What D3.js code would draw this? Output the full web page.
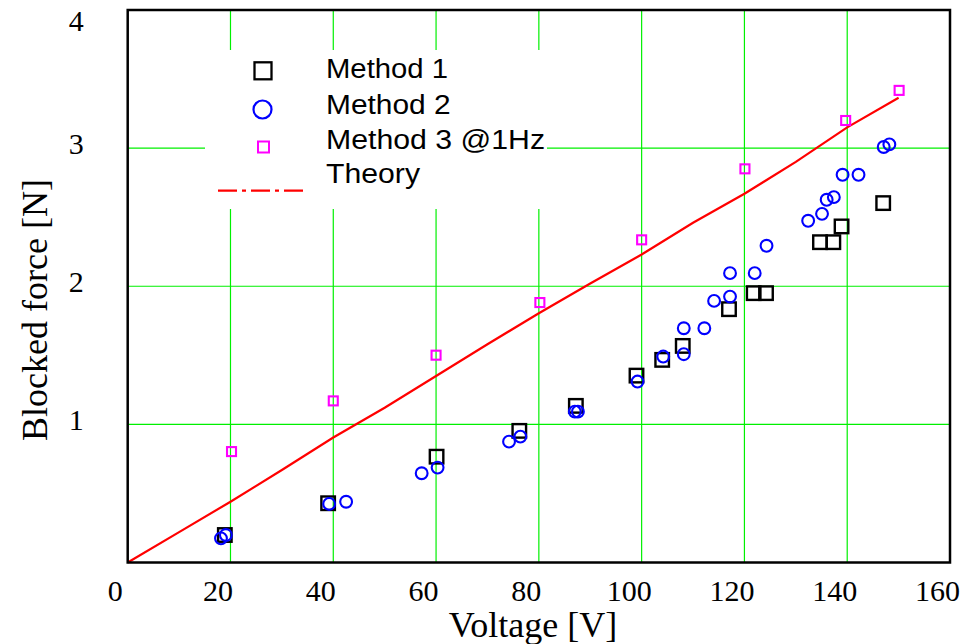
<!DOCTYPE html>
<html>
<head>
<meta charset="utf-8">
<script src="https://cdn.jsdelivr.net/npm/d3@7"></script>
<style>
  html, body { margin: 0; padding: 0; background: #fff; }
  svg { display: block; }
</style>
</head>
<body>
<svg id="chart" width="963" height="644"></svg>
<script>
// Tick values
const xTicks = [0, 20, 40, 60, 80, 100, 120, 140, 160];
const yTicks = [1, 2, 3, 4];

// Method 1: voltage [V], blocked force [N]
const m1Voltage = [18.9, 39.0, 60.1, 76.2, 87.2, 99.0, 104.0, 108.0, 117.0, 121.8, 124.2, 134.7, 137.3, 138.9, 147.0];
const m1Force   = [0.199, 0.429, 0.766, 0.953, 1.134, 1.353, 1.467, 1.568, 1.834, 1.950, 1.950, 2.319, 2.319, 2.433, 2.602];

// Method 2
const m2Voltage = [18.15, 19.1, 39.2, 42.5, 57.2, 60.3, 74.2, 76.4, 87.0, 87.6, 99.2, 104.2, 108.2, 108.2, 112.2, 114.1, 117.2, 117.2, 122.0, 124.3, 132.4, 135.1, 136.0, 137.4, 139.1, 142.2, 147.1, 148.2];
const m2Force   = [0.175, 0.199, 0.424, 0.440, 0.646, 0.687, 0.875, 0.911, 1.092, 1.092, 1.310, 1.491, 1.508, 1.696, 1.696, 1.894, 1.925, 2.095, 2.095, 2.293, 2.474, 2.524, 2.626, 2.645, 2.807, 2.807, 3.008, 3.027];

// Method 3 @1Hz
const m3Voltage = [20.2, 40.0, 60.0, 80.2, 100.0, 120.1, 139.7, 150.1];
const m3Force   = [0.803, 1.170, 1.501, 1.882, 2.336, 2.850, 3.200, 3.418];

// Theory curve
const thVoltage = [0, 10, 20, 30, 40, 50, 60, 70, 80, 90, 100, 110, 120, 130, 140, 150];
const thForce   = [0, 0.22, 0.44, 0.67, 0.905, 1.12, 1.35, 1.58, 1.805, 2.02, 2.23, 2.46, 2.67, 2.90, 3.15, 3.365];

const legendLabels = ["Method 1", "Method 2", "Method 3 @1Hz", "Theory"];

const svg = d3.select("#chart");
const L = 127.7, R = 950, T = 10, B = 562.5;

const x = d3.scaleLinear().domain([0, 160]).range([L, R]);
const y = d3.scaleLinear().domain([0, 4]).range([B, T]);

const serif = "'Liberation Serif', 'Times New Roman', serif";
const sans = "'Liberation Sans', Arial, sans-serif";
const grid = "#00f000";

// Grid lines
const g = svg.append("g");
g.selectAll("line.vx").data(xTicks.filter(d => d > 0 && d < 160)).join("line")
  .attr("x1", d => x(d)).attr("x2", d => x(d)).attr("y1", T).attr("y2", B)
  .attr("stroke", grid).attr("stroke-width", 1.2);
g.selectAll("line.hy").data(yTicks.filter(d => d < 4)).join("line")
  .attr("x1", L).attr("x2", R).attr("y1", d => y(d)).attr("y2", d => y(d))
  .attr("stroke", grid).attr("stroke-width", 1.2);

// Legend background hides the grid behind it
svg.append("rect").attr("x", 205).attr("y", 50).attr("width", 342).attr("height", 159).attr("fill", "#fff");

// Theory curve
const line = d3.line().x(d => x(d[0])).y(d => y(d[1]));
svg.append("path")
  .datum(thVoltage.map((v, i) => [v, thForce[i]]))
  .attr("d", line).attr("fill", "none").attr("stroke", "#ff0000").attr("stroke-width", 2.2);

// Markers
function squares(vs, fs, side, color, sw) {
  svg.append("g").selectAll("rect").data(vs.map((v, i) => [v, fs[i]])).join("rect")
    .attr("x", d => x(d[0]) - side / 2).attr("y", d => y(d[1]) - side / 2)
    .attr("width", side).attr("height", side)
    .attr("fill", "none").attr("stroke", color).attr("stroke-width", sw);
}
squares(m1Voltage, m1Force, 13.5, "#000", 2.4);
svg.append("g").selectAll("circle").data(m2Voltage.map((v, i) => [v, m2Force[i]])).join("circle")
  .attr("cx", d => x(d[0])).attr("cy", d => y(d[1])).attr("r", 5.9)
  .attr("fill", "none").attr("stroke", "#0000ff").attr("stroke-width", 2.1);
squares(m3Voltage, m3Force, 9, "#ff00ff", 2.1);

// Frame
svg.append("rect").attr("x", L).attr("y", T).attr("width", R - L).attr("height", B - T)
  .attr("fill", "none").attr("stroke", "#000").attr("stroke-width", 2.5);

// Axes (labels only)
const xAxis = svg.append("g").attr("transform", `translate(0,${B})`)
  .call(d3.axisBottom(x).tickValues(xTicks).tickSize(0).tickPadding(17.5).tickFormat(d3.format("d")));
xAxis.select(".domain").remove();
xAxis.selectAll("text").attr("dx", -13).style("font-family", serif).style("font-size", "30px").attr("fill", "#000");

const yAxis = svg.append("g").attr("transform", `translate(${L},0)`)
  .call(d3.axisLeft(y).tickValues(yTicks).tickSize(0).tickPadding(44).tickFormat(d3.format("d")));
yAxis.select(".domain").remove();
yAxis.selectAll("text").style("font-family", serif).style("font-size", "30px").attr("fill", "#000")
  .attr("dy", d => d === 4 ? "0.68em" : "0.17em");

// Axis titles
svg.append("text").attr("x", 533).attr("y", 637).attr("text-anchor", "middle")
  .style("font-family", serif).style("font-size", "36px").text("Voltage [V]");
svg.append("text").attr("transform", "translate(47,310) rotate(-90)").attr("text-anchor", "middle")
  .style("font-family", serif).style("font-size", "36px").text("Blocked force [N]");

// Legend
const lg = svg.append("g");
const baselines = [78.3, 114, 149.3, 183.3];
const textWidths = [122, 124.7, 219, 94];
lg.selectAll("text").data(legendLabels).join("text")
  .attr("x", 326).attr("y", (d, i) => baselines[i])
  .attr("textLength", (d, i) => textWidths[i]).attr("lengthAdjust", "spacingAndGlyphs")
  .style("font-family", sans).style("font-size", "27px").text(d => d);
lg.append("rect").attr("x", 263 - 8.5).attr("y", 70.8 - 8.5).attr("width", 17).attr("height", 17)
  .attr("fill", "none").attr("stroke", "#000").attr("stroke-width", 2.3);
lg.append("circle").attr("cx", 262.5).attr("cy", 109.5).attr("r", 9)
  .attr("fill", "none").attr("stroke", "#0000ff").attr("stroke-width", 2.2);
lg.append("rect").attr("x", 263.5 - 5.5).attr("y", 147 - 5.5).attr("width", 11).attr("height", 11)
  .attr("fill", "none").attr("stroke", "#ff00ff").attr("stroke-width", 2);
lg.append("line").attr("x1", 218).attr("x2", 303).attr("y1", 190.7).attr("y2", 190.7)
  .attr("stroke", "#ff0000").attr("stroke-width", 2.2).attr("stroke-dasharray", "19 5 4 5");
</script>
</body>
</html>
